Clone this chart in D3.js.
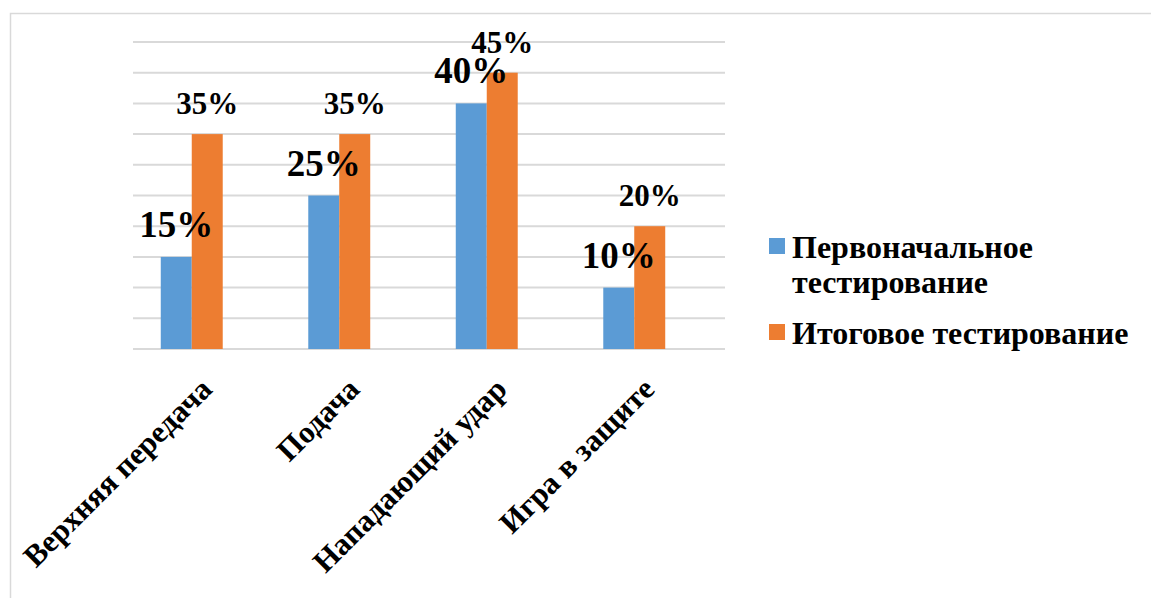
<!DOCTYPE html>
<html>
<head>
<meta charset="utf-8">
<script src="https://cdn.jsdelivr.net/npm/d3@7"></script>
</head>
<body style="margin:0">
<svg id="chart" width="1151" height="598" style="display:block"></svg>
<script>
// данные диаграммы
const categories = ["Верхняя передача", "Подача", "Нападающий удар", "Игра в защите"];
const seriesNames = ["Первоначальное тестирование", "Итоговое тестирование"];
const initialValues = [15, 25, 40, 10];
const finalValues   = [35, 35, 45, 20];
const gridTicks = [0, 5, 10, 15, 20, 25, 30, 35, 40, 45, 50];
const colors = ["#5b9bd5", "#ed7d31"];

const showChart = () => {
  const svg = d3.select("#chart")
    .attr("font-family", "Liberation Serif")
    .attr("font-weight", "bold");
  const W = 1151, H = 598;

  // рамка области диаграммы
  svg.append("rect")
    .attr("x", 10.5).attr("y", 13.5)
    .attr("width", W + 20).attr("height", H + 20)
    .attr("fill", "none")
    .attr("stroke", "#d9d9d9")
    .attr("stroke-width", 1.5);

  const plotLeft = 133, plotRight = 725;
  const y = d3.scaleLinear().domain([0, 50]).range([349, 42]);
  const x = d3.scaleBand().domain(categories).range([118, 708]).paddingInner(0.58).paddingOuter(0.29);
  const xs = d3.scaleBand().domain([0, 1]).range([0, x.bandwidth()]);

  // сетка
  svg.append("g").selectAll("line")
    .data(gridTicks)
    .enter().append("line")
    .attr("x1", plotLeft).attr("x2", plotRight)
    .attr("y1", d => y(d)).attr("y2", d => y(d))
    .attr("stroke", "#d9d9d9")
    .attr("stroke-width", 2);

  const rows = categories.map((c, i) => ({ cat: c, vals: [initialValues[i], finalValues[i]] }));

  const groups = svg.append("g").selectAll("g")
    .data(rows)
    .enter().append("g")
    .attr("transform", d => "translate(" + x(d.cat) + ",0)");

  groups.selectAll("rect")
    .data(d => d.vals.map((v, k) => ({ v: v, k: k })))
    .enter().append("rect")
    .attr("x", d => xs(d.k))
    .attr("y", d => y(d.v))
    .attr("width", xs.bandwidth())
    .attr("height", d => y(0) - y(d.v))
    .attr("fill", d => colors[d.k]);

  // подписи значений
  groups.selectAll("text")
    .data(d => d.vals.map((v, k) => ({ v: v, k: k })))
    .enter().append("text")
    .attr("x", d => xs(d.k) + xs.bandwidth() / 2)
    .attr("y", d => y(d.v) - 20)
    .attr("text-anchor", "middle")
    .attr("font-size", d => d.k === 0 ? 37 : 31)
    .text(d => d.v + "%");

  // подписи категорий
  svg.append("g").selectAll("text")
    .data(categories)
    .enter().append("text")
    .attr("transform", d => "translate(" + (x(d) + x.bandwidth() / 2 + 22) + "," + (349 + 42) + ") rotate(-45)")
    .attr("text-anchor", "end")
    .attr("font-size", 31)
    .text(d => d);

  // легенда
  const legend = svg.append("g").attr("transform", "translate(769,0)");
  const legendLines = [["Первоначальное", "тестирование"], ["Итоговое тестирование"]];
  const legendTop = [238, 324];
  legendLines.forEach((lines, i) => {
    legend.append("rect")
      .attr("x", 0).attr("y", legendTop[i])
      .attr("width", 16).attr("height", 16)
      .attr("fill", colors[i]);
    const t = legend.append("text")
      .attr("x", 23).attr("y", legendTop[i] + 20)
      .attr("font-size", 32);
    lines.forEach((s, j) => {
      t.append("tspan").attr("x", 23).attr("dy", j === 0 ? 0 : 35).text(s);
    });
  });
}

showChart();
</script>
</body>
</html>
